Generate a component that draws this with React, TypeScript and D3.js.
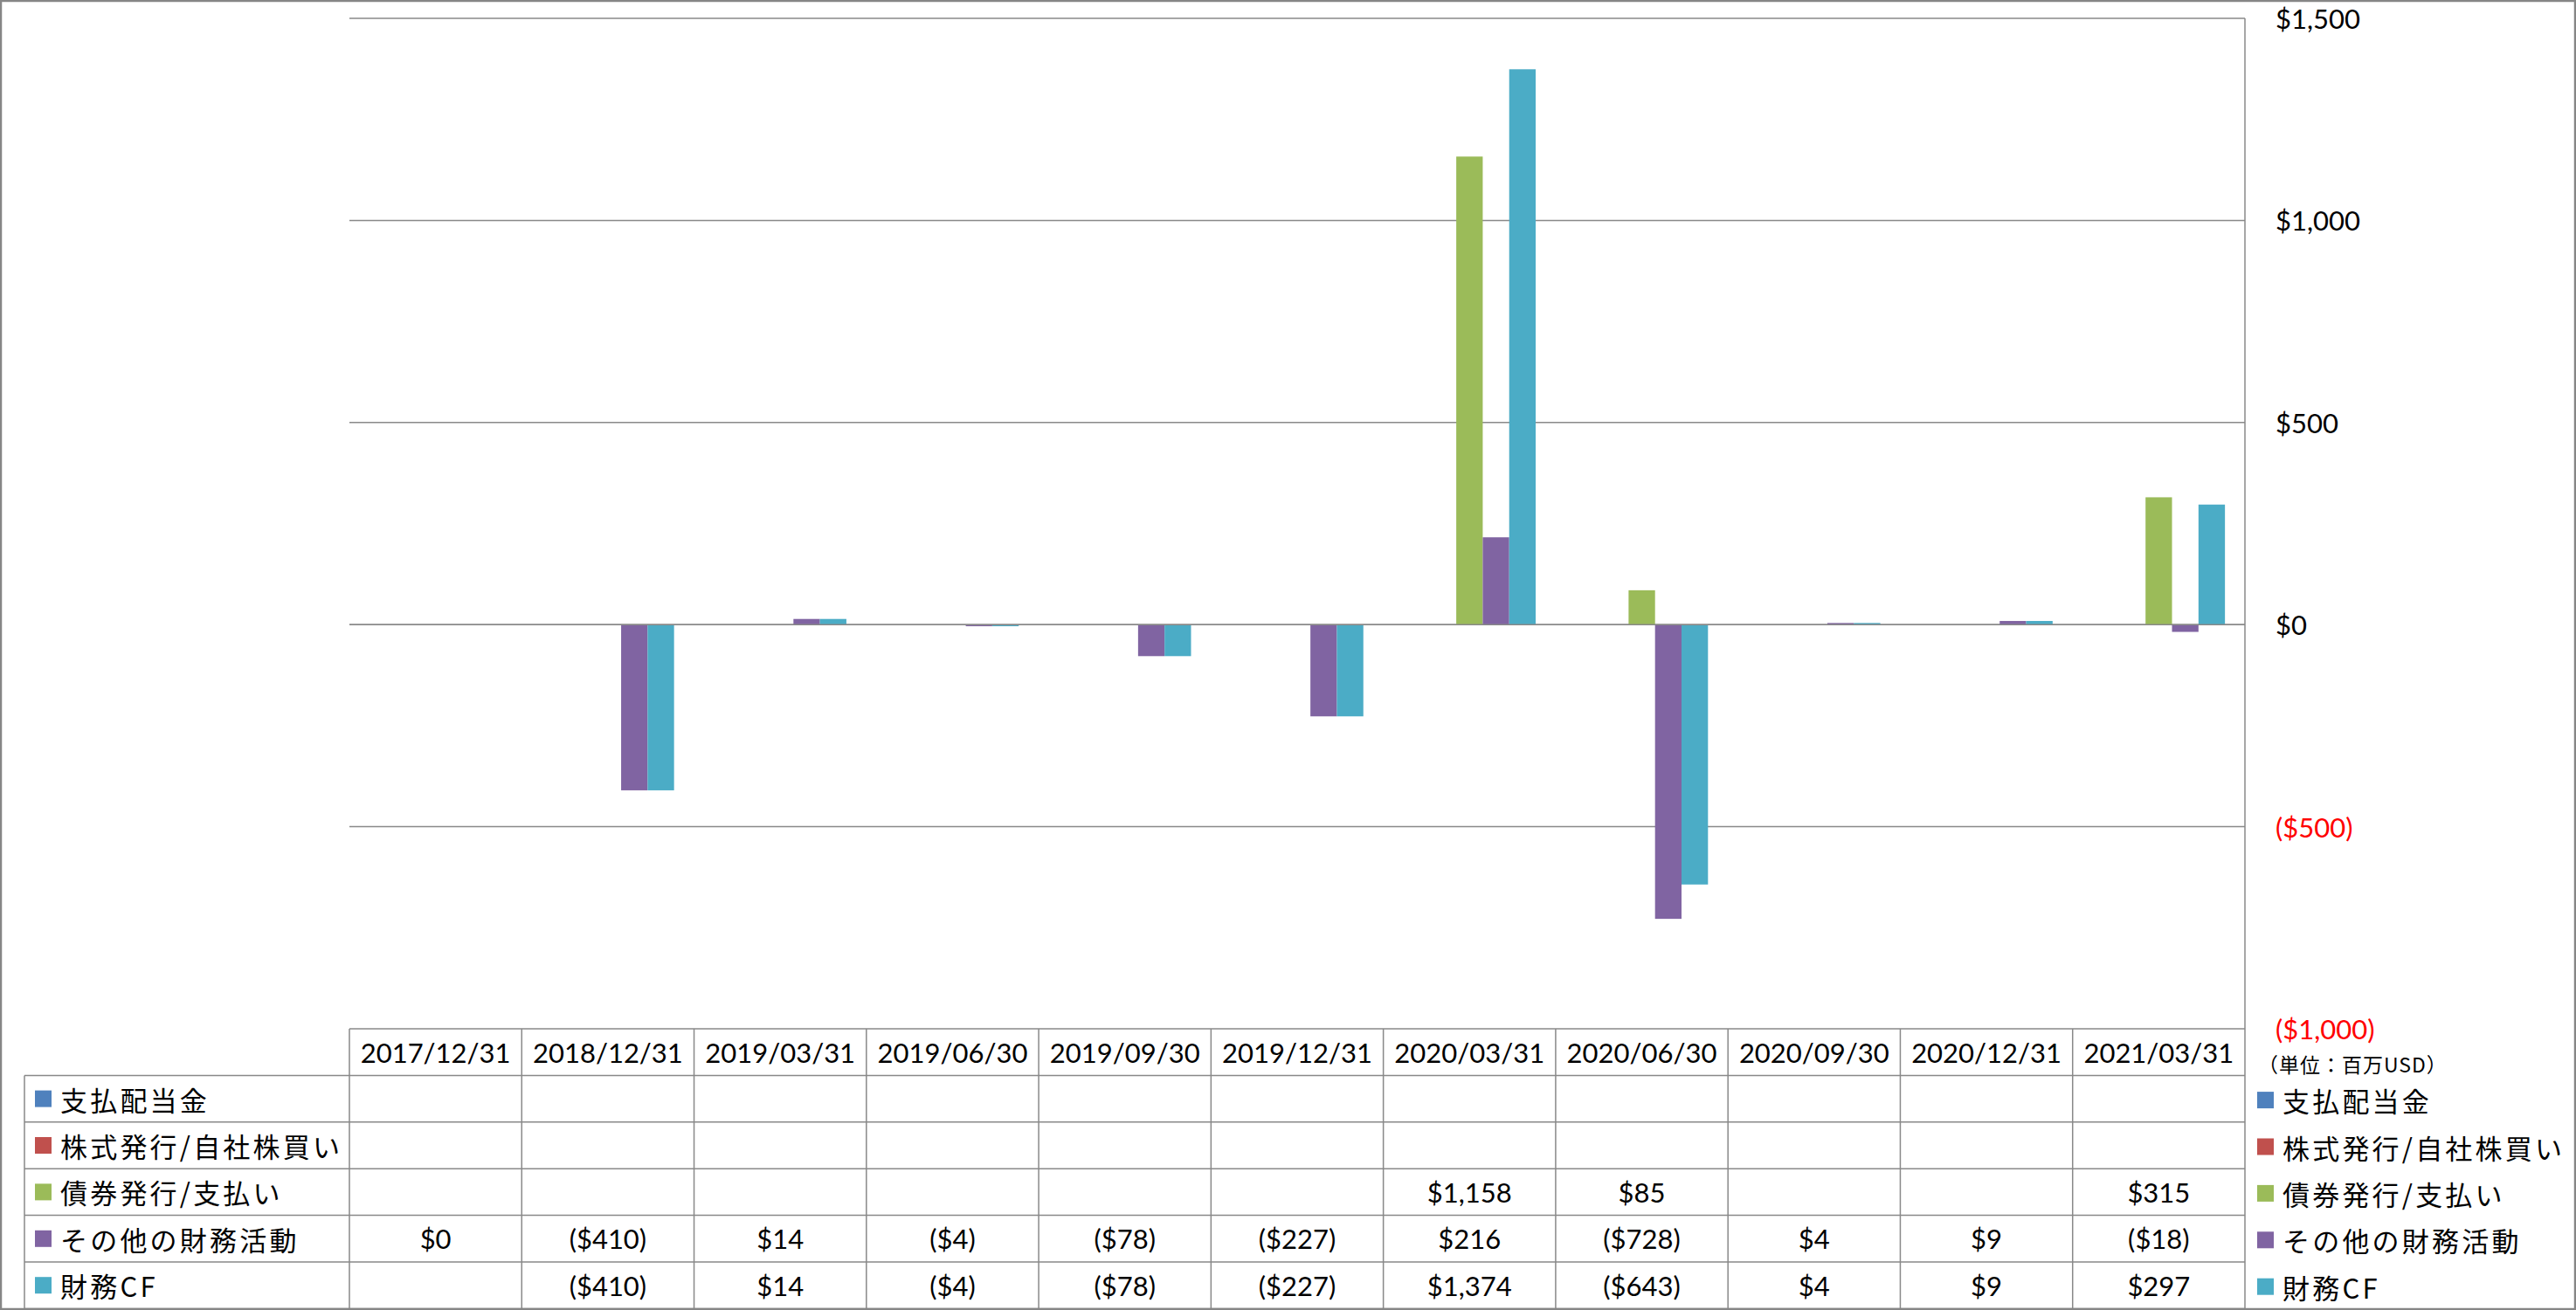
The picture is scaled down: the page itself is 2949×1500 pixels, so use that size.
import React from "react";
import * as d3 from "d3";

const categories = [
  "2017/12/31", "2018/12/31", "2019/03/31", "2019/06/30", "2019/09/30", "2019/12/31",
  "2020/03/31", "2020/06/30", "2020/09/30", "2020/12/31", "2021/03/31",
];
const seriesNames = ["支払配当金", "株式発行/自社株買い", "債券発行/支払い", "その他の財務活動", "財務CF"];
const seriesColors = ["#4F81BD", "#C0504D", "#9BBB59", "#8064A2", "#4BACC6"];

const dividends: (number | null)[] = [null, null, null, null, null, null, null, null, null, null, null];
const stockIssuance: (number | null)[] = [null, null, null, null, null, null, null, null, null, null, null];
const debtIssuance: (number | null)[] = [null, null, null, null, null, null, 1158, 85, null, null, 315];
const otherFinancing: (number | null)[] = [0, -410, 14, -4, -78, -227, 216, -728, 4, 9, -18];
const financingCF: (number | null)[] = [null, -410, 14, -4, -78, -227, 1374, -643, 4, 9, 297];
const seriesValues = [dividends, stockIssuance, debtIssuance, otherFinancing, financingCF];

const yTicks = [-1000, -500, 0, 500, 1000, 1500];
const unitLabel = "（単位：百万USD）";

const W = 2949;
const H = 1500;
const plotL = 400;
const plotR = 2570;
const plotT = 21;
const plotB = 1178;
const rowH = 53.4;
const tableL = 28;
const GRID = "#898989";
const FONT = "Lato, 'Noto Sans CJK JP', sans-serif";
const JFONT = "'Noto Sans CJK JP', Lato, sans-serif";

const fmtNum = d3.format(",");
const fmtMoney = (v: number) => (v < 0 ? `($${fmtNum(-v)})` : `$${fmtNum(v)}`);

export default function App() {
  const y = d3.scaleLinear().domain([-1000, 1500]).range([plotB, plotT]);
  const x = d3.scaleBand<string>().domain(categories).range([plotL, plotR]).padding(0);
  const catW = x.bandwidth();
  const barW = catW / (seriesNames.length + 1.51);
  const off = (catW - barW * seriesNames.length) / 2;
  const xs = d3
    .scaleBand<string>()
    .domain(seriesNames)
    .range([off, catW - off])
    .padding(0);

  const rowTop = (r: number) => plotB + rowH * (r + 1);
  const tableBottom = plotB + rowH * 6;

  return (
    <svg
      width={W}
      height={H}
      style={{ position: "absolute", left: 0, top: 0, background: "#fff" }}
      fontFamily={FONT}
    >
      <rect x={0} y={0} width={W} height={H} fill="#fff" />
      {yTicks.map((t) => (
        <line key={t} x1={plotL} x2={plotR} y1={y(t)} y2={y(t)} stroke={GRID} strokeWidth={1.5} />
      ))}
      {categories.map((c, i) =>
        seriesNames.map((s, k) => {
          const v = seriesValues[k][i];
          if (v === null || v === 0) return null;
          const y0 = y(0);
          const y1 = y(v);
          return (
            <rect
              key={c + s}
              x={(x(c) as number) + (xs(s) as number)}
              width={xs.bandwidth()}
              y={Math.min(y0, y1)}
              height={Math.abs(y1 - y0)}
              fill={seriesColors[k]}
            />
          );
        })
      )}
      <line x1={plotL} x2={plotR} y1={y(0)} y2={y(0)} stroke={GRID} strokeWidth={1.5} />
      <line x1={plotR} x2={plotR} y1={plotT} y2={tableBottom} stroke={GRID} strokeWidth={1.5} />
      {yTicks.map((t) => (
        <text
          key={"l" + t}
          x={2605}
          y={y(t)}
          dominantBaseline="central"
          fontSize={31}
          fill={t < 0 ? "#FF0000" : "#000"}
        >
          {fmtMoney(t)}
        </text>
      ))}
      <text
        x={2585}
        y={1218}
        dominantBaseline="central"
        fontSize={23}
        letterSpacing={1}
        fontFamily={JFONT}
        fill="#000"
      >
        {unitLabel}
      </text>

      {[0, 1, 2, 3, 4, 5].map((r) => (
        <line
          key={"h" + r}
          x1={tableL}
          x2={plotR}
          y1={rowTop(r)}
          y2={rowTop(r)}
          stroke={GRID}
          strokeWidth={1.5}
        />
      ))}
      <line x1={tableL} x2={tableL} y1={rowTop(0)} y2={tableBottom} stroke={GRID} strokeWidth={1.5} />
      {categories.map((c) => (
        <line
          key={"v" + c}
          x1={x(c) as number}
          x2={x(c) as number}
          y1={plotB}
          y2={tableBottom}
          stroke={GRID}
          strokeWidth={1.5}
        />
      ))}
      {categories.map((c) => (
        <text
          key={"hd" + c}
          x={(x(c) as number) + catW / 2}
          y={plotB + rowH / 2}
          textAnchor="middle"
          dominantBaseline="central"
          fontSize={31}
          fill="#000"
        >
          {c}
        </text>
      ))}
      {seriesNames.map((s, k) => {
        const cy = rowTop(k) + rowH / 2;
        return (
          <g key={"row" + s}>
            <rect x={40} y={cy - 9.5} width={19} height={19} fill={seriesColors[k]} />
            <text
              x={69}
              y={cy}
              dominantBaseline="central"
              fontSize={31}
              letterSpacing={3.2}
              fontFamily={JFONT}
              fill="#000"
            >
              {s}
            </text>
            {categories.map((c, i) => {
              const v = seriesValues[k][i];
              if (v === null) return null;
              return (
                <text
                  key={"cell" + c}
                  x={(x(c) as number) + catW / 2}
                  y={cy}
                  textAnchor="middle"
                  dominantBaseline="central"
                  fontSize={31}
                  fill="#000"
                >
                  {fmtMoney(v)}
                </text>
              );
            })}
          </g>
        );
      })}
      {seriesNames.map((s, k) => {
        const cy = rowTop(k) + rowH / 2 + 1.5;
        return (
          <g key={"lg" + s}>
            <rect x={2584} y={cy - 9.5} width={19} height={19} fill={seriesColors[k]} />
            <text
              x={2613}
              y={cy}
              dominantBaseline="central"
              fontSize={31}
              letterSpacing={3.2}
              fontFamily={JFONT}
              fill="#000"
            >
              {s}
            </text>
          </g>
        );
      })}
      <rect x={1} y={1} width={W - 2} height={H - 2} fill="none" stroke="#868686" strokeWidth={2.5} />
    </svg>
  );
}
